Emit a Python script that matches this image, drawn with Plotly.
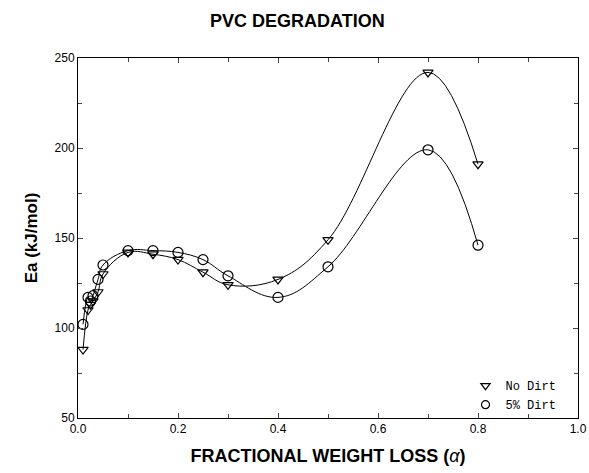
import plotly.graph_objects as go

alpha_nd = [0.01, 0.02, 0.025, 0.03, 0.04, 0.05, 0.10, 0.15, 0.20, 0.25, 0.30, 0.40, 0.50, 0.70, 0.80]
ea_nd = [88, 110, 113, 115, 120, 130, 142, 141, 138, 131, 124, 127, 149, 242, 191]

alpha_d = [0.01, 0.02, 0.025, 0.03, 0.04, 0.05, 0.10, 0.15, 0.20, 0.25, 0.30, 0.40, 0.50, 0.70, 0.80]
ea_d = [102, 117, 115, 118, 127, 135, 143, 143, 142, 138, 129, 117, 134, 199, 146]

series_names = ["No Dirt", "5% Dirt"]
symbols = ["triangle-down-open", "circle-open"]

fig = go.Figure()
for xs, ys, name, sym in [(alpha_nd, ea_nd, series_names[0], symbols[0]),
                          (alpha_d, ea_d, series_names[1], symbols[1])]:
    fig.add_trace(go.Scatter(
        x=xs, y=ys, mode="lines+markers", name=name, showlegend=False,
        line=dict(color="black", width=1, shape="spline", smoothing=1.1),
        marker=dict(symbol=sym, size=9 if "triangle" in sym else 10, color="black", line=dict(width=1.2)),
    ))
for name, sym in zip(series_names, symbols):
    fig.add_trace(go.Scatter(
        x=[None], y=[None], mode="markers", name=name,
        marker=dict(symbol=sym, size=8, color="black", line=dict(width=1.2)),
    ))

fig.update_layout(
    width=589, height=473,
    margin=dict(l=78, r=11, t=58, b=55, autoexpand=False),
    paper_bgcolor="white", plot_bgcolor="white",
    title=dict(text="<b>PVC DEGRADATION</b>", x=0.505, xanchor="center", y=0.97, yanchor="top",
               font=dict(family="Liberation Sans", size=18, color="black")),
    font=dict(family="Liberation Sans", size=12, color="black"),
    legend=dict(x=0.775, y=0.13, xanchor="left", yanchor="top",
                font=dict(family="Liberation Mono", size=12, color="black"),
                bgcolor="rgba(0,0,0,0)", tracegroupgap=0, itemwidth=30),
    showlegend=True,
)
fig.update_xaxes(
    range=[0, 1.0], tickvals=[0, 0.2, 0.4, 0.6, 0.8, 1.0],
    ticktext=["0.0", "0.2", "0.4", "0.6", "0.8", "1.0"],
    ticks="inside", ticklen=5, showline=True, linecolor="black", linewidth=1, mirror="ticks",
    showgrid=False, zeroline=False, automargin=False,
    minor=dict(tickvals=[0.1, 0.3, 0.5, 0.7, 0.9], ticks="inside", ticklen=4),
    title=dict(text="<b>FRACTIONAL WEIGHT LOSS (</b><i>α</i><b>)</b>",
               font=dict(family="Liberation Sans", size=18), standoff=13),
)
fig.update_yaxes(
    range=[50, 250], tickvals=[50, 100, 150, 200, 250],
    ticks="inside", ticklen=5, showline=True, linecolor="black", linewidth=1, mirror="ticks",
    showgrid=False, zeroline=False, automargin=False,
    minor=dict(tickvals=[75, 125, 175, 225], ticks="inside", ticklen=4),
    title=dict(text="<b>Ea (kJ/mol)</b>", font=dict(family="Liberation Sans", size=17), standoff=12),
)

fig.write_html("out.html")
